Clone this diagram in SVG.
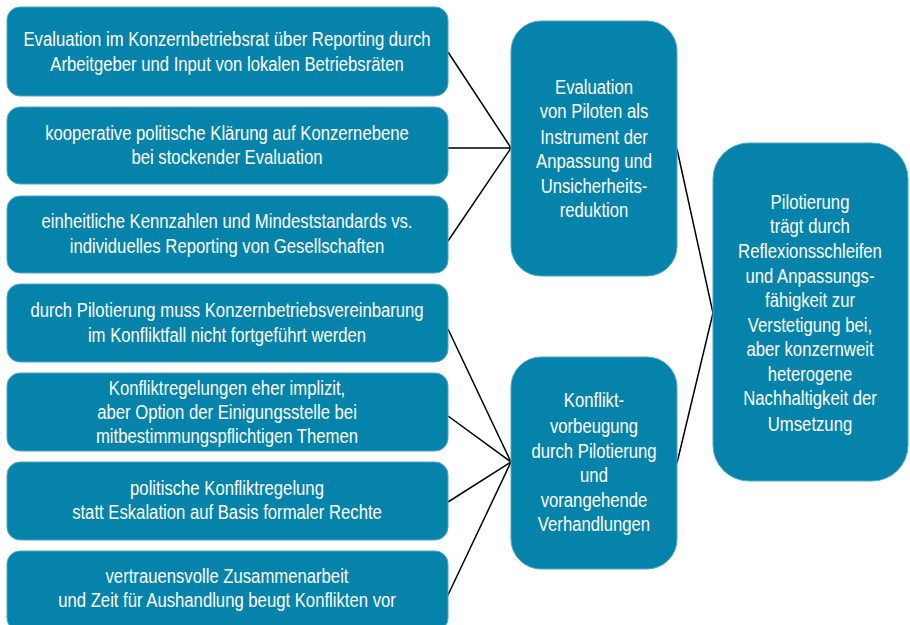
<svg xmlns="http://www.w3.org/2000/svg" width="910" height="625" viewBox="0 0 910 625">
<style>
.box{fill:#0683ab;stroke:#4fa6c7;stroke-width:1}
.t{font-family:"Liberation Sans Narrow","Liberation Sans",Arial,sans-serif;font-size:20px;fill:#ffffff;text-anchor:middle}
.c{stroke:#000;stroke-width:1.5;fill:none}
</style>
<rect width="910" height="625" fill="#ffffff"/>
<g id="connectors">
<path class="c" d="M448,52 L511,148 M448,148 L511,148 M448,241 L511,148"/>
<path class="c" d="M448,329 L511,462 M448,416 L511,462 M448,502 L511,462 M448,595 L511,462"/>
<path class="c" d="M677,149 L713,313 L677,463"/>
</g>
<g id="n1"><rect class="box" x="7" y="7" width="441" height="89" rx="13"/>
<g transform="translate(227,0) scale(0.835,1)">
<text class="t" x="0" y="46">Evaluation im Konzernbetriebsrat über Reporting durch</text>
<text class="t" x="0" y="71">Arbeitgeber und Input von lokalen Betriebsräten</text></g></g>
<g id="n2"><rect class="box" x="7" y="107" width="441" height="77" rx="13"/>
<g transform="translate(227,0) scale(0.835,1)">
<text class="t" x="0" y="140">kooperative politische Klärung auf Konzernebene</text>
<text class="t" x="0" y="164">bei stockender Evaluation</text></g></g>
<g id="n3"><rect class="box" x="7" y="196" width="441" height="77" rx="13"/>
<g transform="translate(227,0) scale(0.835,1)">
<text class="t" x="0" y="228">einheitliche Kennzahlen und Mindeststandards vs.</text>
<text class="t" x="0" y="253">individuelles Reporting von Gesellschaften</text></g></g>
<g id="n4"><rect class="box" x="7" y="284" width="441" height="78" rx="13"/>
<g transform="translate(227,0) scale(0.835,1)">
<text class="t" x="0" y="317">durch Pilotierung muss Konzernbetriebsvereinbarung</text>
<text class="t" x="0" y="342">im Konfliktfall nicht fortgeführt werden</text></g></g>
<g id="n5"><rect class="box" x="7" y="373" width="441" height="78" rx="13"/>
<g transform="translate(227,0) scale(0.835,1)">
<text class="t" x="0" y="395">Konfliktregelungen eher implizit,</text>
<text class="t" x="0" y="419">aber Option der Einigungsstelle bei</text>
<text class="t" x="0" y="443">mitbestimmungspflichtigen Themen</text></g></g>
<g id="n6"><rect class="box" x="7" y="462" width="441" height="78" rx="13"/>
<g transform="translate(227,0) scale(0.835,1)">
<text class="t" x="0" y="495">politische Konfliktregelung</text>
<text class="t" x="0" y="519">statt Eskalation auf Basis formaler Rechte</text></g></g>
<g id="n7"><rect class="box" x="7" y="551" width="441" height="80" rx="13"/>
<g transform="translate(227,0) scale(0.835,1)">
<text class="t" x="0" y="583">vertrauensvolle Zusammenarbeit</text>
<text class="t" x="0" y="607">und Zeit für Aushandlung beugt Konflikten vor</text></g></g>
<g id="m1"><rect class="box" x="511" y="21" width="166" height="255" rx="30"/>
<g transform="translate(594,0) scale(0.835,1)">
<text class="t" x="0" y="94">Evaluation</text>
<text class="t" x="0" y="118">von Piloten als</text>
<text class="t" x="0" y="144">Instrument der</text>
<text class="t" x="0" y="168">Anpassung und</text>
<text class="t" x="0" y="193">Unsicherheits-</text>
<text class="t" x="0" y="217">reduktion</text></g></g>
<g id="m2"><rect class="box" x="511" y="357" width="166" height="212" rx="30"/>
<g transform="translate(594,0) scale(0.835,1)">
<text class="t" x="0" y="407">Konflikt-</text>
<text class="t" x="0" y="433">vorbeugung</text>
<text class="t" x="0" y="458">durch Pilotierung</text>
<text class="t" x="0" y="482">und</text>
<text class="t" x="0" y="507">vorangehende</text>
<text class="t" x="0" y="531">Verhandlungen</text></g></g>
<g id="r1"><rect class="box" x="713" y="143" width="195" height="338" rx="36"/>
<g transform="translate(810,0) scale(0.835,1)">
<text class="t" x="0" y="209">Pilotierung</text>
<text class="t" x="0" y="233">trägt durch</text>
<text class="t" x="0" y="258">Reflexionsschleifen</text>
<text class="t" x="0" y="283">und Anpassungs-</text>
<text class="t" x="0" y="307">fähigkeit zur</text>
<text class="t" x="0" y="332">Verstetigung bei,</text>
<text class="t" x="0" y="356">aber konzernweit</text>
<text class="t" x="0" y="381">heterogene</text>
<text class="t" x="0" y="405">Nachhaltigkeit der</text>
<text class="t" x="0" y="431">Umsetzung</text></g></g>
</svg>
